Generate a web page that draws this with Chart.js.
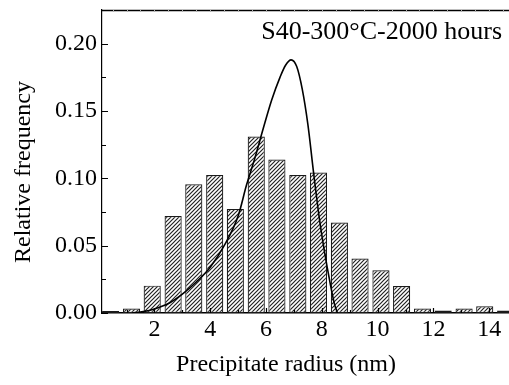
<!DOCTYPE html>
<html>
<head>
<meta charset="utf-8">
<script src="https://cdn.jsdelivr.net/npm/chart.js@4/dist/chart.umd.min.js"></script>
<style>
  html, body { margin: 0; padding: 0; background: #fff; }
  #wrap { width: 509px; height: 385px; }
</style>
</head>
<body>
<div id="wrap"><canvas id="hist"></canvas></div>
<script>
// histogram bins (bar centres, nm) and relative frequencies
const radius = [0.43, 1.18, 1.92, 2.67, 3.41, 4.16, 4.90, 5.65, 6.39, 7.14,
                7.88, 8.63, 9.37, 10.12, 10.86, 11.61, 12.35, 13.10, 13.84, 14.59];
const freq = [0.0015, 0.0033, 0.0203, 0.072, 0.0956, 0.1025, 0.0773, 0.131, 0.114, 0.1025,
              0.1043, 0.0672, 0.0404, 0.0317, 0.0201, 0.0033, 0.0018, 0.0033, 0.005, 0.0018];

// fitted distribution curve
const fitX = [1.2, 1.6, 2.0, 2.5, 3.0, 3.5, 4.0, 4.5, 5.0, 5.3, 5.6, 5.9, 6.2, 6.5,
              6.7, 6.9, 7.1, 7.3, 7.5, 7.7, 7.9, 8.1, 8.3, 8.45, 8.56];
const fitY = [0, 0.001, 0.003, 0.007, 0.014, 0.023, 0.034, 0.050, 0.072, 0.095, 0.115, 0.137, 0.158, 0.175,
              0.184, 0.188, 0.183, 0.166, 0.140, 0.105, 0.072, 0.045, 0.022, 0.007, 0];

const xTicks = [2, 4, 6, 8, 10, 12, 14];
const yTicks = [0, 0.05, 0.10, 0.15, 0.20];

const sampleLabel = "S40-300°C-2000 hours";
const xTitle = "Precipitate radius (nm)";
const yTitle = "Relative frequency";

const serif = "'Liberation Serif', 'DejaVu Serif', serif";

// diagonal hatch fill for the bars
function hatch(){
  const c = document.createElement("canvas");
  c.width = 4; c.height = 4;
  const g = c.getContext("2d");
  g.fillStyle = "#fff";
  g.fillRect(0, 0, 4, 4);
  g.strokeStyle = "#222";
  g.lineWidth = 1.2;
  g.beginPath();
  g.moveTo(-1, 5); g.lineTo(5, -1);
  g.moveTo(-1, 1); g.lineTo(1, -1);
  g.moveTo(3, 5); g.lineTo(5, 3);
  g.stroke();
  return g.createPattern(c, "repeat");
}

// inward ticks, top frame line, axis titles and the sample label
const frame = {
  id: "frame",
  afterDatasetsDraw(chart){
    const {ctx, chartArea: a, scales: {x, y}} = chart;
    ctx.save();
    ctx.strokeStyle = "#000";
    ctx.lineWidth = 1.2;
    ctx.beginPath();
    yTicks.forEach(v => {
      const p = Math.round(y.getPixelForValue(v)) + 0.5;
      ctx.moveTo(a.left, p); ctx.lineTo(a.left + 6, p);
      const m = Math.round(y.getPixelForValue(v + 0.025)) + 0.5;
      if (m > a.top) { ctx.moveTo(a.left, m); ctx.lineTo(a.left + 4, m); }
    });
    xTicks.forEach(v => {
      const p = Math.round(x.getPixelForValue(v)) + 0.5;
      ctx.moveTo(p, a.bottom); ctx.lineTo(p, a.bottom - 5);
      const m = Math.round(x.getPixelForValue(v - 1)) + 0.5;
      ctx.moveTo(m, a.bottom); ctx.lineTo(m, a.bottom - 3);
    });
    ctx.stroke();

    ctx.lineWidth = 1.5;
    ctx.beginPath();
    ctx.moveTo(a.left, a.top + 0.5);
    ctx.lineTo(a.right, a.top + 0.5);
    ctx.stroke();

    ctx.strokeStyle = "#aaa";
    ctx.lineWidth = 1;
    ctx.beginPath();
    for (let v = 0.5; v < x.max; v += 0.5) {
      const p = Math.round(x.getPixelForValue(v)) + 0.5;
      ctx.moveTo(p, a.top); ctx.lineTo(p, a.top + 2);
    }
    ctx.stroke();

    ctx.fillStyle = "#000";
    ctx.textBaseline = "alphabetic";
    ctx.font = "26px " + serif;
    ctx.textAlign = "right";
    ctx.fillText(sampleLabel, a.right - 7, a.top + 29);

    ctx.font = "24px " + serif;
    ctx.textAlign = "center";
    ctx.fillText(xTitle, 286, 371);

    ctx.translate(29.5, 172);
    ctx.rotate(-Math.PI / 2);
    ctx.fillText(yTitle, 0, 0);
    ctx.restore();
  }
};

new Chart(document.getElementById("hist"), {
  type: "bar",
  data: {
    datasets: [
      {
        type: "line",
        data: fitX.map((v, i) => ({x: v, y: fitY[i]})),
        borderColor: "#000",
        borderWidth: 1.6,
        pointRadius: 0,
        fill: false,
        cubicInterpolationMode: "monotone",
        order: 0
      },
      {
        type: "bar",
        data: radius.map((v, i) => ({x: v, y: freq[i]})),
        backgroundColor: hatch(),
        borderColor: "#1a1a1a",
        borderWidth: 1.2,
        borderSkipped: false,
        barPercentage: 0.83,
        categoryPercentage: 1,
        order: 1
      }
    ]
  },
  options: {
    responsive: true,
    maintainAspectRatio: false,
    animation: false,
    layout: { padding: 0 },
    plugins: {
      legend: { display: false },
      tooltip: { enabled: false }
    },
    scales: {
      x: {
        type: "linear",
        offset: false,
        min: 0.12,
        max: 14.71,
        grid: { display: false, drawTicks: false },
        border: { display: true, color: "#000", width: 1.6 },
        afterBuildTicks: s => { s.ticks = xTicks.map(v => ({value: v})); },
        afterFit: s => { s.height = 72; s.paddingLeft = 0; s.paddingRight = 0; },
        ticks: {
          color: "#000",
          padding: 2,
          maxRotation: 0,
          font: { family: serif, size: 24 }
        }
      },
      y: {
        min: 0,
        max: 0.225,
        grid: { display: false, drawTicks: false },
        border: { display: true, color: "#000", width: 1.2 },
        afterBuildTicks: s => { s.ticks = yTicks.map(v => ({value: v})); },
        afterFit: s => { s.width = 102; s.paddingTop = 10; s.paddingBottom = 0; },
        ticks: {
          color: "#000",
          padding: 5,
          font: { family: serif, size: 24 },
          callback: v => v.toFixed(2)
        }
      }
    }
  },
  plugins: [frame]
});
</script>
</body>
</html>
